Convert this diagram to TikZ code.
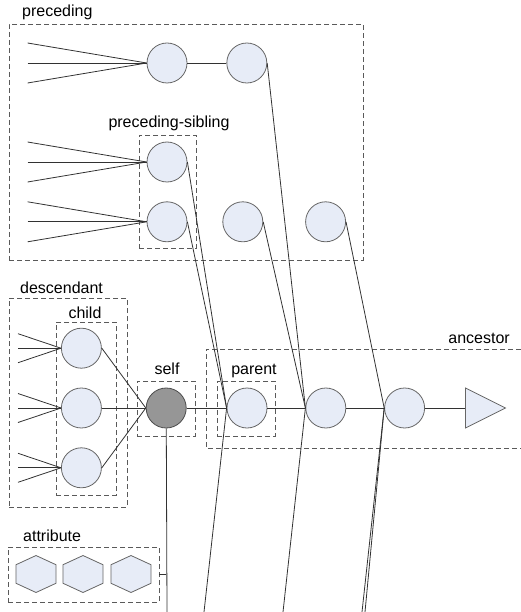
\documentclass[tikz,border=0pt]{standalone}
\usepackage{fontspec}
\setmainfont{Liberation Sans}
\usetikzlibrary{positioning,shapes.geometric,fit}
\definecolor{nodefill}{RGB}{231,236,247}
\definecolor{nodeline}{RGB}{102,102,102}
\definecolor{selffill}{RGB}{150,150,150}
\definecolor{boxline}{RGB}{90,90,90}
\definecolor{linkline}{RGB}{50,50,50}
\tikzset{
  mynode/.style = {circle, draw=nodeline, fill=nodefill, minimum size=40pt, inner sep=0pt, line width=0.8pt},
  myself/.style = {mynode, draw=black!70, fill=selffill},
  myattr/.style = {regular polygon, regular polygon sides=6, shape border rotate=30, draw=nodeline, fill=nodefill, minimum size=37pt, inner sep=0pt, xscale=1.25, line width=0.8pt},
  myroot/.style = {isosceles triangle, isosceles triangle stretches, draw=nodeline, fill=nodefill, minimum width=40pt, minimum height=40pt, inner sep=0pt, line width=0.8pt},
  mygroup/.style = {draw=boxline, dash pattern=on 5pt off 3pt, line width=0.8pt, inner sep=0pt},
  mylabel/.style = {font=\fontsize{16}{19}\selectfont, inner sep=0pt},
  mylink/.style = {draw=linkline, line width=0.8pt},
}

\begin{document}
\begin{tikzpicture}[x=1pt, y=1pt]
\useasboundingbox (0,0) rectangle (521,-612);

% self and its ancestors
\node (parent) [mynode] at (247,-408) {};
\node (anc1) [mynode, right=38pt of parent] {};
\node (anc2) [mynode, right=38pt of anc1] {};
\node (root) [myroot, right=40pt of anc2] {};
\node (self) [myself, left=40pt of parent] {};

% children
\node (ch2) [mynode, left=44pt of self] {};
\node (ch1) [mynode, above=19pt of ch2] {};
\node (ch3) [mynode, below=19pt of ch2] {};

% preceding and preceding siblings
\node (pre1) [mynode] at (167,-63) {};
\node (pre2) [mynode, right=39pt of pre1] {};
\node (sib1) [mynode] at (167,-162) {};
\node (sib2) [mynode, below=19pt of sib1] {};
\node (pre3) [mynode, right=35pt of sib2] {};
\node (pre4) [mynode, right=42pt of pre3] {};

% attributes
\node (att1) [myattr] at (36,-574) {};
\node (att2) [myattr] at (83,-574) {};
\node (att3) [myattr] at (131,-574) {};

% dashed groups
\node (gpre) [mygroup, fit={(9,-24) (363,-260)}] {};
\node (gsib) [mygroup, fit={(139,-135) (196,-248)}] {};
\node (gdes) [mygroup, fit={(9,-298) (127,-507)}] {};
\node (gchi) [mygroup, fit={(56,-322) (116,-495)}] {};
\node (gself) [mygroup, fit={(137,-381) (195,-436)}] {};
\node (gpar) [mygroup, fit={(217,-381) (275,-436)}] {};
\node (gatt) [mygroup, fit={(8,-547) (159,-602)}] {};
\draw[mygroup] (521,-349) -| (206,-448) -- (521,-448);

\node (lpre) [mylabel, anchor=base west] at (22,-17) {preceding};
\node (lsib) [mylabel, anchor=base] at (169,-128) {preceding-sibling};
\node (ldes) [mylabel, anchor=base west] at (20,-293) {descendant};
\node (lchi) [mylabel, anchor=base] at (85,-318) {child};
\node (lself) [mylabel, anchor=base] at (167,-374) {self};
\node (lpar) [mylabel, anchor=base] at (254,-374) {parent};
\node (lanc) [mylabel, anchor=base east] at (510,-343) {ancestor};
\node (latt) [mylabel, anchor=base west] at (23,-541) {attribute};

% links
\foreach \u/\v in {self/parent,parent/anc1,anc1/anc2,anc2/root,pre1/pre2}{
  \draw[mylink] (\u) -- (\v);
}
\foreach \u in {ch1,ch2,ch3}{
  \draw[mylink] (\u.east) -- (self.west);
}
\foreach \u/\v in {sib1/parent,sib2/parent,pre2/anc1,pre3/anc1,pre4/anc2}{
  \draw[mylink] (\u.east) -- (\v.west);
}

% loose ends on the left
\foreach \n/\dx/\dy in {pre1/119/20,sib1/119/20,sib2/119/20,ch1/43/14.5,ch2/43/14.5,ch3/43/14.5}{
  \foreach \s [count=\k] in {1,0,-1}{
    \coordinate (\n-in\k) at ([shift={(-\dx,\s*\dy)}]\n.west);
    \draw[mylink] (\n-in\k) -- (\n.west);
  }
}

% loose ends at the bottom
\coordinate (cut0) at (167,-612);
\coordinate (cut1) at (204,-612);
\coordinate (cut2) at (283,-612);
\coordinate (cut3) at (362,-612);
\coordinate (cut4) at (365,-612);
\draw[mylink] (self) -- (cut0);
\foreach \u/\v in {parent/cut1,anc1/cut2,anc2/cut3,anc2/cut4}{
  \draw[mylink] (\u.west) -- (\v);
}
\draw[mylink] (gatt.east) -- (gatt.east -| self);
\end{tikzpicture}
\end{document}
